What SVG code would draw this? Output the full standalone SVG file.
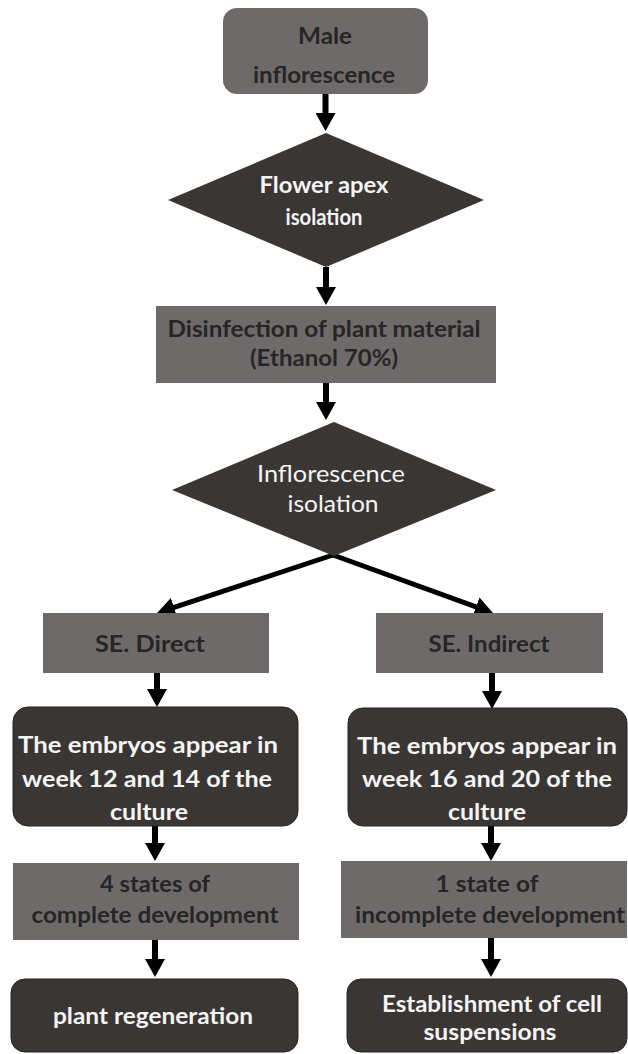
<svg xmlns="http://www.w3.org/2000/svg" width="628" height="1054" viewBox="0 0 628 1054">
<style>
.g{fill:#6f6a6a;}
.d{fill:#3a3634;stroke:#262322;stroke-width:1;}
.dm{fill:#3a3634;}
.tb{font-family:Lato,"Liberation Sans",sans-serif;font-weight:bold;font-size:23px;fill:#262525;text-anchor:middle;}
.tw{font-family:Lato,"Liberation Sans",sans-serif;font-weight:bold;font-size:23px;fill:#f4f4f4;text-anchor:middle;}
.tr{font-family:Lato,"Liberation Sans",sans-serif;font-weight:normal;font-size:24px;fill:#f4f4f4;text-anchor:middle;}
.c{stroke:#000;stroke-width:6;fill:none;marker-end:url(#ah);}
.cd{stroke:#000;stroke-width:5;fill:none;marker-end:url(#ah);}
</style>
<defs>
<marker id="ah" markerUnits="userSpaceOnUse" markerWidth="18" markerHeight="20" refX="8" refY="10" orient="auto" viewBox="0 0 18 20">
<path d="M0,0 L18,10 L0,20 z" fill="#000"/>
</marker>
</defs>
<rect width="628" height="1054" fill="#fff"/>

<g id="connectors">
<line class="c" x1="325.5" y1="94" x2="325.5" y2="121"/>
<line class="c" x1="326" y1="267" x2="326" y2="295"/>
<line class="c" x1="326" y1="383" x2="326" y2="410"/>
<line class="cd" x1="333" y1="555" x2="166.5" y2="609.9"/>
<line class="cd" x1="333" y1="555" x2="483.6" y2="609.6"/>
<line class="c" x1="157" y1="673" x2="157" y2="697"/>
<line class="c" x1="492" y1="673" x2="492" y2="699"/>
<line class="c" x1="155" y1="826" x2="155" y2="851"/>
<line class="c" x1="491" y1="826" x2="491" y2="851"/>
<line class="c" x1="155" y1="940" x2="155" y2="967"/>
<line class="c" x1="491" y1="938" x2="491" y2="967"/>
</g>

<g id="n1">
<rect class="g" x="223" y="8" width="205" height="86" rx="14"/>
<text class="tb" x="325" y="44" textLength="54" lengthAdjust="spacingAndGlyphs">Male</text>
<text class="tb" x="324" y="83" textLength="142" lengthAdjust="spacingAndGlyphs">inflorescence</text>
</g>

<g id="n2">
<polygon class="dm" points="326,133 484,200 326,267 168,200"/>
<text class="tw" x="324" y="193" textLength="129" lengthAdjust="spacingAndGlyphs">Flower apex</text>
<text class="tw" x="324" y="225" textLength="77" lengthAdjust="spacingAndGlyphs">isolation</text>
</g>

<g id="n3">
<rect class="g" x="156" y="306" width="340" height="77"/>
<text class="tb" x="324" y="337" textLength="313" lengthAdjust="spacingAndGlyphs">Disinfection of plant material</text>
<text class="tb" x="324" y="366" textLength="148" lengthAdjust="spacingAndGlyphs">(Ethanol 70%)</text>
</g>

<g id="n4">
<polygon class="dm" points="334,422 496,490 334,556 172,490"/>
<text class="tr" x="331" y="482" textLength="148" lengthAdjust="spacingAndGlyphs">Inflorescence</text>
<text class="tr" x="333" y="512" textLength="91" lengthAdjust="spacingAndGlyphs">isolation</text>
</g>

<g id="n5">
<rect class="g" x="43" y="613" width="226" height="60"/>
<text class="tb" x="150" y="652" textLength="110" lengthAdjust="spacingAndGlyphs">SE. Direct</text>
</g>

<g id="n6">
<rect class="g" x="376" y="613" width="227" height="60"/>
<text class="tb" x="489" y="652" textLength="121" lengthAdjust="spacingAndGlyphs">SE. Indirect</text>
</g>

<g id="n7">
<rect class="d" x="13" y="707" width="285" height="119" rx="15"/>
<text class="tw" x="148" y="753" textLength="260" lengthAdjust="spacingAndGlyphs">The embryos appear in</text>
<text class="tw" x="147" y="787" textLength="250" lengthAdjust="spacingAndGlyphs">week 12 and 14 of the</text>
<text class="tw" x="149" y="820" textLength="78" lengthAdjust="spacingAndGlyphs">culture</text>
</g>

<g id="n8">
<rect class="d" x="348" y="708" width="279" height="118" rx="15"/>
<text class="tw" x="487" y="754" textLength="260" lengthAdjust="spacingAndGlyphs">The embryos appear in</text>
<text class="tw" x="487" y="787" textLength="250" lengthAdjust="spacingAndGlyphs">week 16 and 20 of the</text>
<text class="tw" x="487" y="820" textLength="78" lengthAdjust="spacingAndGlyphs">culture</text>
</g>

<g id="n9">
<rect class="g" x="13" y="863" width="286" height="77"/>
<text class="tb" x="155" y="892" textLength="110" lengthAdjust="spacingAndGlyphs">4 states of</text>
<text class="tb" x="155" y="923" textLength="247" lengthAdjust="spacingAndGlyphs">complete development</text>
</g>

<g id="n10">
<rect class="g" x="341" y="861" width="286" height="77"/>
<text class="tb" x="487" y="892" textLength="103" lengthAdjust="spacingAndGlyphs">1 state of</text>
<text class="tb" x="490" y="923" textLength="270" lengthAdjust="spacingAndGlyphs">incomplete development</text>
</g>

<g id="n11">
<rect class="d" x="11" y="979" width="287" height="73" rx="14"/>
<text class="tw" x="153" y="1024" textLength="200" lengthAdjust="spacingAndGlyphs">plant regeneration</text>
</g>

<g id="n12">
<rect class="d" x="347" y="979" width="280" height="73" rx="14"/>
<text class="tw" x="492" y="1012" textLength="220" lengthAdjust="spacingAndGlyphs">Establishment of cell</text>
<text class="tw" x="490" y="1040" textLength="133" lengthAdjust="spacingAndGlyphs">suspensions</text>
</g>
</svg>
